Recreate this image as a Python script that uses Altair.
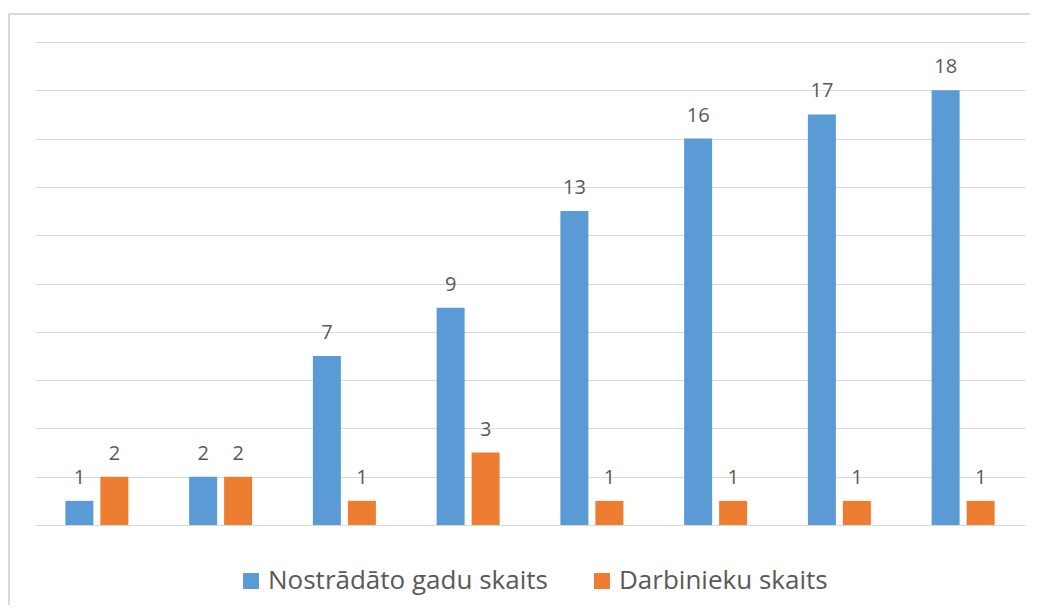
import altair as alt
import pandas as pd

groups = ["1", "2", "3", "4", "5", "6", "7", "8"]
series_names = ["Nostrādāto gadu skaits", "Darbinieku skaits"]
years_worked = [1, 2, 7, 9, 13, 16, 17, 18]
employees = [2, 2, 1, 3, 1, 1, 1, 1]
colors = ["#5B9BD5", "#ED7D31"]

rows = []
for g, a, b in zip(groups, years_worked, employees):
    rows.append({"group": g, "series": series_names[0], "value": a})
    rows.append({"group": g, "series": series_names[1], "value": b})
df = pd.DataFrame(rows)

FONT = "Open Sans"

x_enc = alt.X("group:N", sort=groups, axis=None,
              scale=alt.Scale(paddingInner=0.491, paddingOuter=0.2455))
xo_enc = alt.XOffset("series:N", sort=series_names,
                     scale=alt.Scale(paddingInner=0.2, paddingOuter=0))
y_enc = alt.Y("value:Q", scale=alt.Scale(domain=[0, 20], nice=False),
              axis=alt.Axis(values=list(range(0, 21, 2)), labels=False, ticks=False,
                            domain=False, title=None, grid=True,
                            gridColor="#D9D9D9", gridWidth=1))

bars = alt.Chart(df).mark_bar().encode(
    x=x_enc, xOffset=xo_enc, y=y_enc,
    color=alt.Color("series:N", sort=series_names,
                    scale=alt.Scale(domain=series_names, range=colors),
                    legend=alt.Legend(title=None, orient="none", direction="horizontal",
                                      legendX=203, legendY=526,
                                      symbolType="square", symbolSize=256,
                                      symbolStrokeWidth=0,
                                      labelFont=FONT, labelFontSize=26,
                                      labelColor="#595959", labelOffset=4,
                                      labelLimit=0, columnPadding=41)),
)

labels = alt.Chart(df).mark_text(font=FONT, fontSize=20, color="#595959",
                                 baseline="alphabetic", dy=-17).encode(
    x=x_enc, xOffset=xo_enc, y=alt.Y("value:Q"), text="value:Q"
)

frame_df = pd.DataFrame({"k": [0]})
frame_top = alt.Chart(frame_df).mark_rule(
    stroke="#D9D9D9", strokeWidth=2, clip=False
).encode(x=alt.value(-28), x2=alt.value(995), y=alt.value(-28))
frame_left = alt.Chart(frame_df).mark_rule(
    stroke="#D9D9D9", strokeWidth=2, clip=False
).encode(x=alt.value(-26), y=alt.value(-29), y2=alt.value(600))

chart = alt.layer(frame_top, frame_left, bars, labels).properties(
    width=990, height=483,
    autosize=alt.AutoSizeParams(type="none"),
    padding={"left": 27, "top": 34, "right": 5, "bottom": 80},
    background="transparent",
).configure_view(strokeWidth=0)

chart.save("out.html", embed_options={"renderer": "svg", "actions": False})
